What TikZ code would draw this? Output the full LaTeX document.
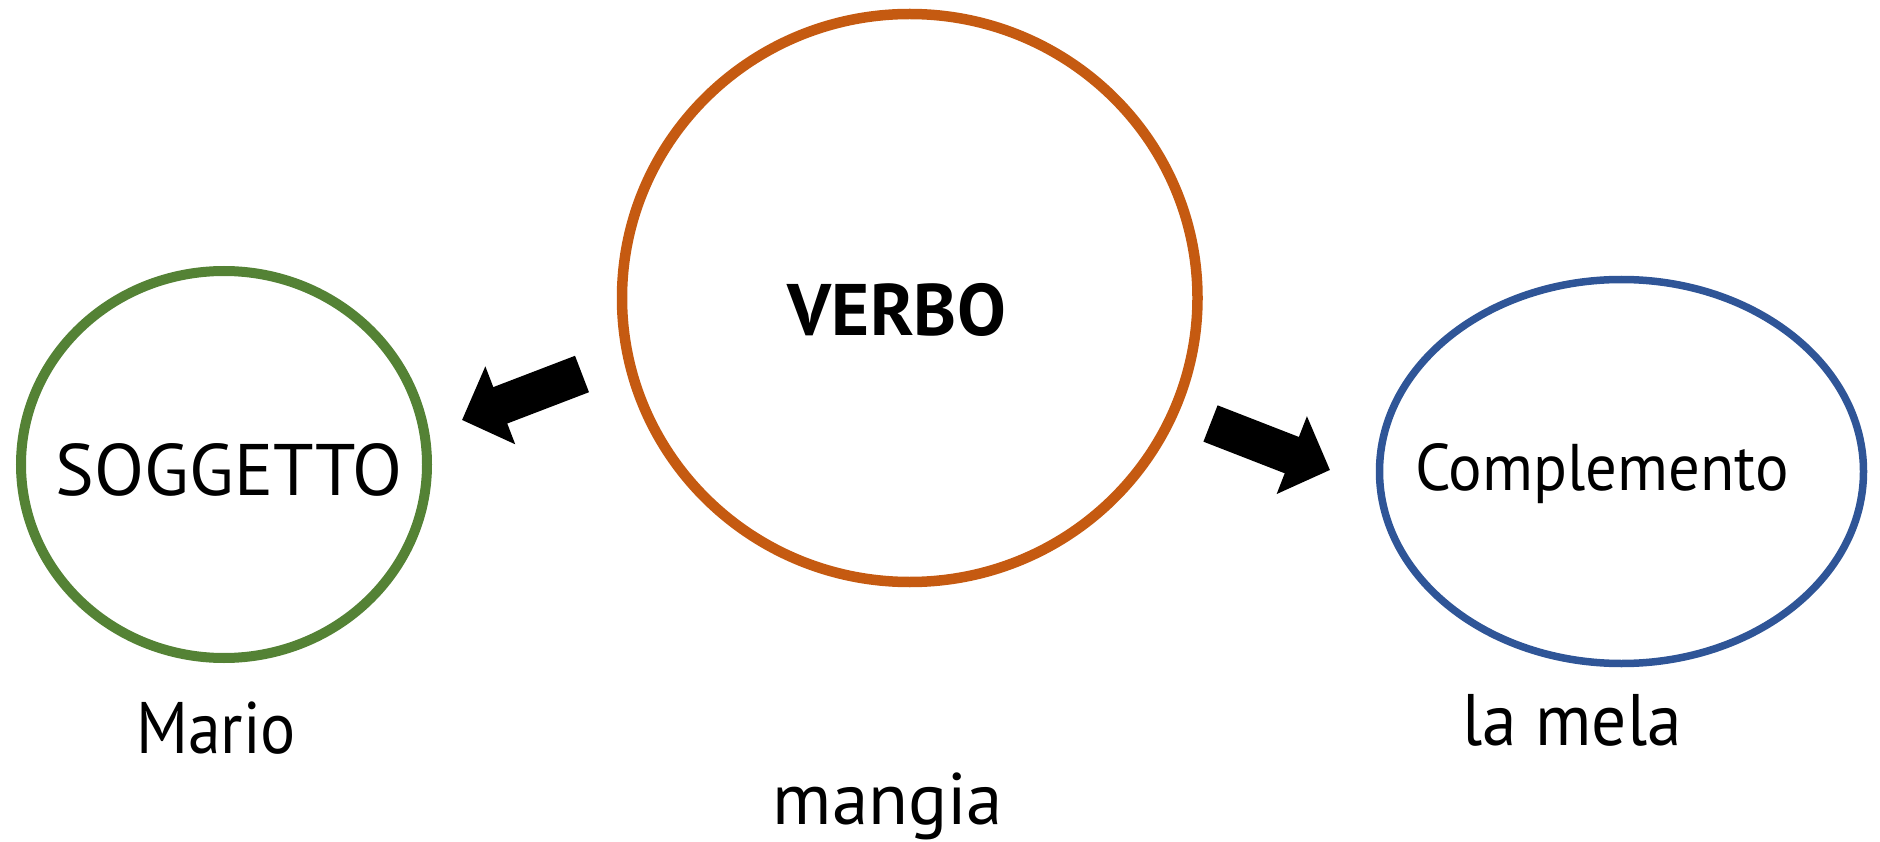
\documentclass[tikz,border=0pt]{standalone}
\usepackage{fontspec}
\setmainfont{PT Sans}
\usetikzlibrary{shapes.geometric,arrows.meta}
\definecolor{sogg}{HTML}{548235}
\definecolor{verb}{HTML}{C55A11}
\definecolor{compl}{HTML}{2F5597}
\tikzset{
  oval/.style={ellipse, draw, inner sep=0pt},
  lbl/.style={anchor=base, inner sep=0pt, font=\fontsize{73pt}{80pt}\selectfont},
  bigarrow/.style={line width=39pt, -{Triangle[length=41pt,width=81pt]}},
}
\begin{document}
\begin{tikzpicture}[x=1pt,y=-1pt]
\useasboundingbox (0,0) rectangle (1880,842);
\node[oval, sogg, line width=10pt, minimum width=406pt, minimum height=387pt] (soggE) at (224,464.5) {};
\node[oval, verb, line width=10.5pt, minimum width=575.5pt, minimum height=568pt] (verbE) at (909.75,298) {};
\node[oval, compl, line width=7.5pt, minimum width=484pt, minimum height=384pt] (complE) at (1621.5,471.5) {};
\node[lbl] (soggT) at (229,495) {SOGGETTO};
\node[lbl, font=\fontsize{73pt}{80pt}\selectfont\bfseries] (verbT) at (897,336) {VERBO};
\node[lbl, font=\fontsize{66pt}{72pt}\selectfont\addfontfeatures{FakeStretch=0.95}] (complT) at (1602,490) {Complemento};
\node[lbl, font=\fontsize{73pt}{80pt}\selectfont\addfontfeatures{FakeStretch=0.9}] (mario) at (216,753) {Mario};
\node[lbl] (mangia) at (888,824) {mangia};
\node[lbl, font=\fontsize{73pt}{80pt}\selectfont\addfontfeatures{FakeStretch=0.95}] (mela) at (1572,745) {la mela};
\coordinate (lt) at (582,374);
\coordinate (lh) at (462,420);
\coordinate (rt) at (1210.5,423.5);
\coordinate (rh) at (1330,470);
\draw[bigarrow] (lt) -- (lh);
\draw[bigarrow] (rt) -- (rh);
\end{tikzpicture}
\end{document}
